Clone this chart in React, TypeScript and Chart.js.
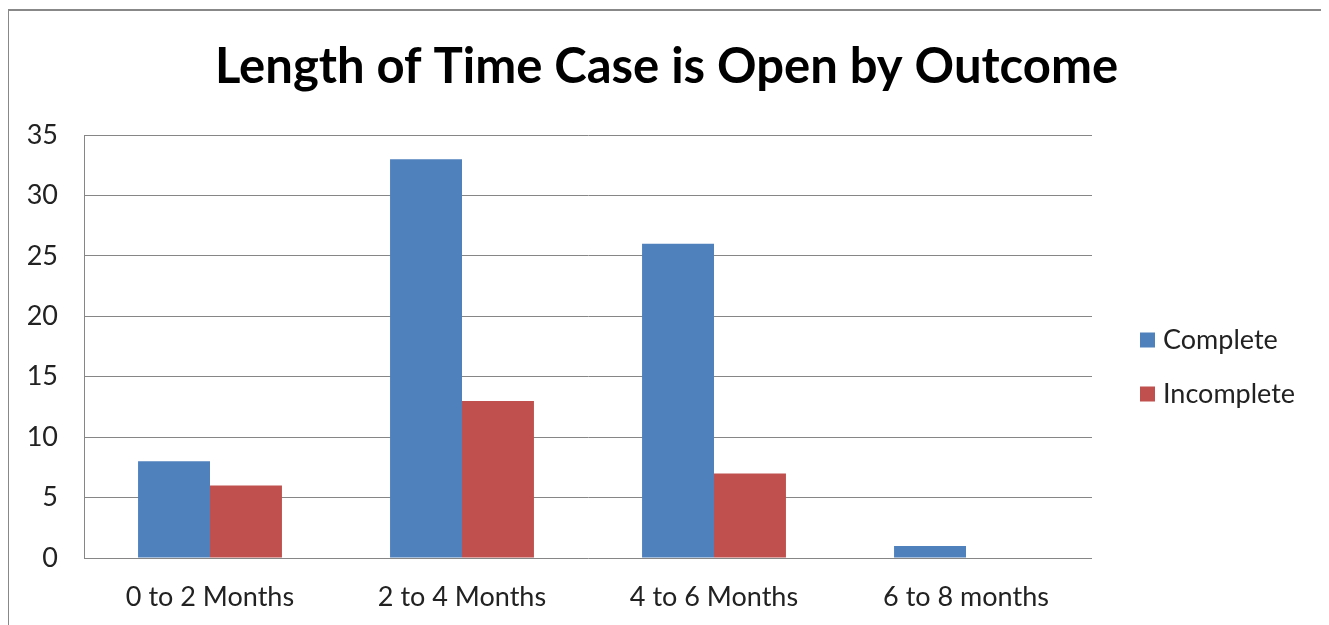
import React, { useEffect, useRef } from "react";
import { Chart, registerables } from "chart.js";

Chart.register(...registerables);

const categories = ["0 to 2 Months", "2 to 4 Months", "4 to 6 Months", "6 to 8 months"];
const completeValues = [8, 33, 26, 1];
const incompleteValues = [6, 13, 7, 0];
const seriesNames = ["Complete", "Incomplete"];
const seriesColors = ["#4F81BD", "#C0504D"];
const titleText = "Length of Time Case is Open by Outcome";
const FONT = "Lato, 'Open Sans', sans-serif";

const titleLegendPlugin = {
  id: "titleAndLegend",
  afterDraw(chart: any) {
    const { ctx, chartArea, width } = chart;
    ctx.save();
    // title centered over whole canvas
    ctx.font = `bold 49px ${FONT}`;
    ctx.fillStyle = "#000";
    ctx.textAlign = "center";
    ctx.textBaseline = "alphabetic";
    ctx.fillText(titleText, width / 2, 72);
    // legend
    const x0 = chartArea.right + 48;
    const rowGap = 54;
    const yStart = chartArea.top + (chartArea.bottom - chartArea.top) / 2 - 7;
    ctx.font = `27px ${FONT}`;
    ctx.textBaseline = "middle";
    ctx.textAlign = "left";
    chart.data.datasets.forEach((ds: any, i: number) => {
      const cy = yStart + i * rowGap;
      ctx.fillStyle = ds.backgroundColor;
      ctx.fillRect(x0, cy - 7, 15, 15);
      ctx.fillStyle = "#222";
      ctx.fillText(ds.label, x0 + 23, cy + 1);
    });
    ctx.restore();
  },
};

export default function App() {
  const ref = useRef<HTMLCanvasElement | null>(null);
  useEffect(() => {
    document.documentElement.style.overflow = "hidden";
    document.body.style.overflow = "hidden";
    const canvas = ref.current;
    if (!canvas) return;
    const chart = new Chart(canvas, {
      type: "bar",
      data: {
        labels: categories,
        datasets: [
          { label: seriesNames[0], data: completeValues, backgroundColor: seriesColors[0] },
          { label: seriesNames[1], data: incompleteValues, backgroundColor: seriesColors[1] },
        ],
      },
      options: {
        responsive: false,
        animation: false,
        events: [],
        layout: { padding: { left: 0, right: 232, top: 124, bottom: 0 } },
        datasets: { bar: { categoryPercentage: 0.571, barPercentage: 1.0 } } as any,
        plugins: {
          legend: { display: false },
          tooltip: { enabled: false },
          title: { display: false },
        },
        scales: {
          x: {
            grid: { display: false, drawTicks: false },
            border: { display: false },
            ticks: { color: "#222", font: { family: FONT, size: 27 }, padding: 23, maxRotation: 0 },
            afterFit: (s: any) => { s.height = 93; },
          },
          y: {
            min: 0,
            max: 35,
            ticks: { stepSize: 5, color: "#222", font: { family: FONT, size: 27 }, padding: 26 },
            grid: { color: "#868686", lineWidth: 1, drawTicks: false },
            border: { display: true, color: "#868686", width: 1 },
            afterFit: (s: any) => { s.width = 75; },
          },
        },
      },
      plugins: [titleLegendPlugin],
    });
    return () => chart.destroy();
  }, []);
  return (
    <div
      style={{
        width: 1315,
        height: 640,
        border: "2px solid #888",
        marginLeft: -1,
        marginTop: 1,
        background: "#fff",
      }}
    >
      <canvas ref={ref} width={1315} height={640} style={{ display: "block" }} />
    </div>
  );
}
